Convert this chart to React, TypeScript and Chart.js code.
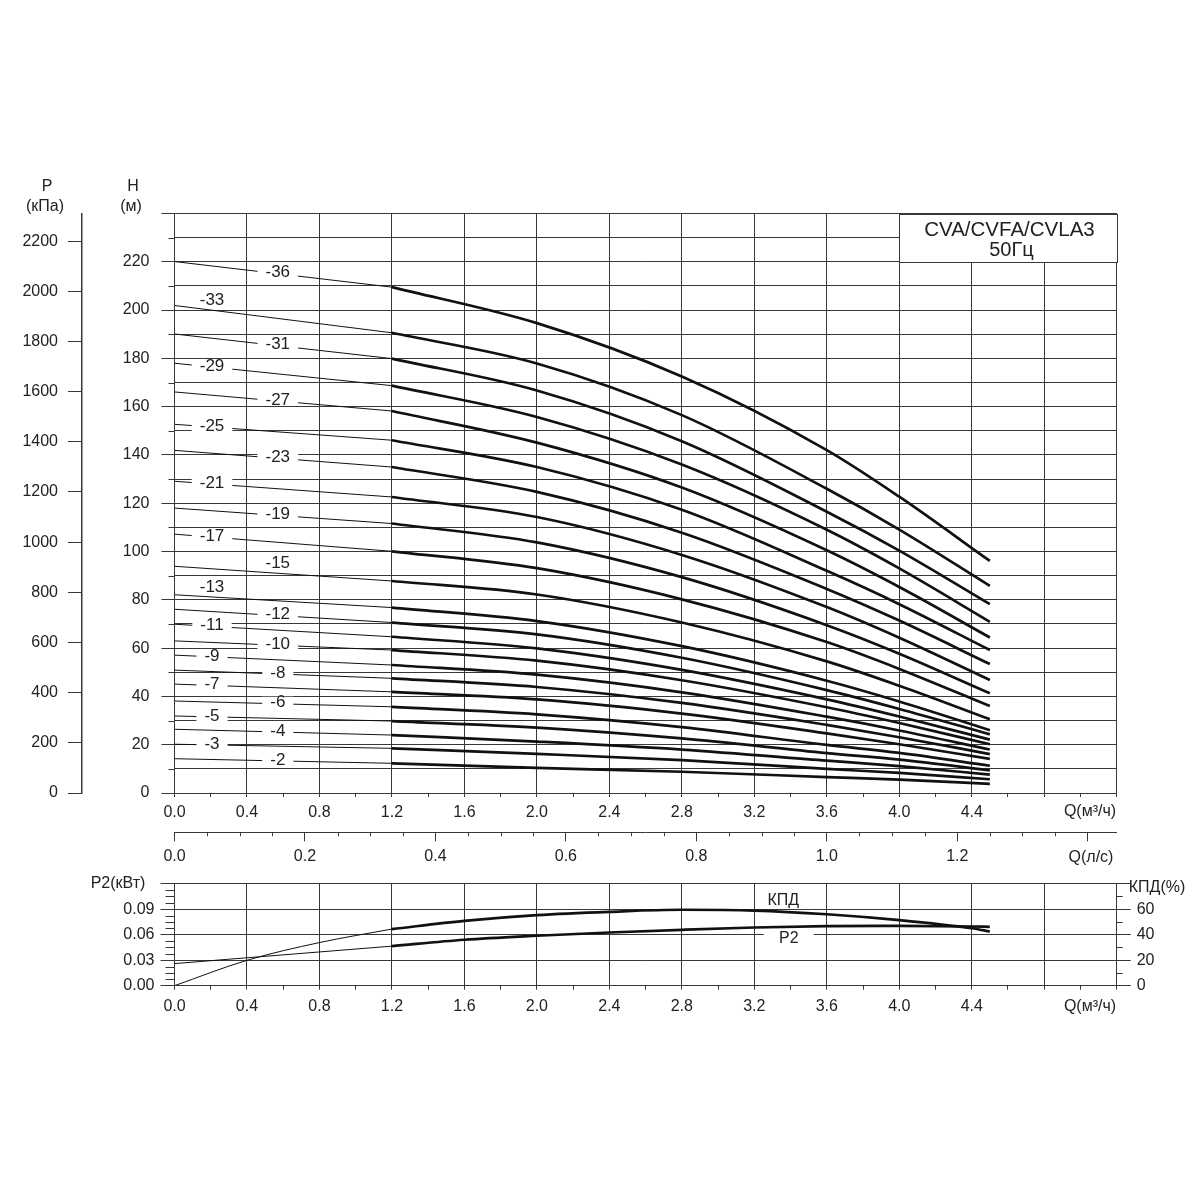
import React, { useEffect, useRef } from 'react';
import { Chart, registerables } from 'chart.js';

Chart.register(...registerables);

const FONT = '"Liberation Sans", Arial, Helvetica, sans-serif';
const INK = '#222222';
const GRID = '#383838';
const CURVE = '#111111';
const CLEAR = 'rgba(0,0,0,0)';

// ---------------- data ----------------
// flow points (m³/h) at which the head curves were read
const flowPoints = [0, 1.2, 2.0, 2.8, 3.6, 4.0, 4.5];

const stageNames = ['-36', '-33', '-31', '-29', '-27', '-25', '-23', '-21', '-19', '-17', '-15', '-13', '-12', '-11', '-10', '-9', '-8', '-7', '-6', '-5', '-4', '-3', '-2'];

// head H (m) for each model, at flowPoints
const head36 = [220.1, 209.5, 194.6, 172.5, 142.0, 122.7, 96.1];
const head33 = [201.9, 190.6, 177.9, 156.5, 126.0, 109.1, 85.8];
const head31 = [190.1, 179.9, 166.7, 145.7, 116.5, 100.4, 78.2];
const head29 = [178.0, 168.7, 155.7, 136.0, 109.0, 93.0, 70.9];
const head27 = [166.1, 158.2, 145.1, 126.5, 100.5, 85.3, 64.4];
const head25 = [152.7, 146.1, 135.0, 117.3, 92.0, 78.2, 59.2];
const head23 = [141.9, 135.0, 124.7, 107.8, 84.5, 71.4, 53.4];
const head21 = [129.1, 122.6, 114.3, 98.6, 77.0, 64.3, 46.8];
const head19 = [118.0, 111.6, 103.8, 89.4, 69.5, 57.7, 41.3];
const head17 = [107.2, 100.1, 93.1, 80.2, 62.5, 51.4, 36.0];
const head15 = [93.9, 87.8, 82.2, 70.6, 54.5, 44.4, 30.5];
const head13 = [82.1, 76.8, 71.2, 60.8, 46.5, 37.9, 26.0];
const head12 = [76.1, 70.6, 65.7, 56.0, 42.6, 34.8, 24.3];
const head11 = [69.9, 64.7, 59.9, 51.0, 38.8, 31.7, 22.1];
const head10 = [63.0, 59.2, 54.8, 46.7, 35.5, 29.0, 20.2];
const head9 = [57.1, 53.0, 49.0, 41.7, 31.6, 25.9, 18.0];
const head8 = [50.9, 47.5, 43.9, 37.3, 28.2, 23.1, 16.1];
const head7 = [45.1, 41.9, 38.8, 32.9, 24.7, 20.2, 14.1];
const head6 = [38.1, 35.7, 32.6, 27.3, 19.9, 16.6, 11.3];
const head5 = [31.9, 29.8, 27.1, 22.6, 16.5, 13.8, 9.4];
const head4 = [26.4, 24.0, 21.3, 18.0, 13.4, 11.1, 7.6];
const head3 = [20.2, 18.5, 16.2, 13.6, 10.0, 8.3, 5.7];
const head2 = [14.2, 12.3, 10.4, 8.8, 6.6, 5.5, 3.8];

const headCurves = [head36, head33, head31, head29, head27, head25, head23, head21, head19, head17, head15, head13, head12, head11, head10, head9, head8, head7, head6, head5, head4, head3, head2];

// power P2 (kW)
const powerFlow = [0, 1.2, 1.6, 2.0, 2.4, 2.8, 3.2, 3.6, 4.0, 4.4, 4.5];
const powerKW = [0.026, 0.0465, 0.054, 0.0587, 0.0625, 0.0657, 0.0684, 0.0700, 0.0703, 0.0696, 0.0692];

// efficiency (%)
const effFlow = [0, 0.4, 0.8, 1.2, 1.6, 2.0, 2.4, 2.8, 3.2, 3.6, 4.0, 4.4, 4.5];
const effPct = [0, 19.9, 33.8, 44.4, 50.8, 55.3, 57.9, 59.5, 58.9, 56.0, 51.4, 45.0, 42.5];

// tick labels
const flowTicksM3h = [0, 0.4, 0.8, 1.2, 1.6, 2.0, 2.4, 2.8, 3.2, 3.6, 4.0, 4.4];
const flowTicksLs = [0, 0.2, 0.4, 0.6, 0.8, 1.0, 1.2];
const headTicks = [0, 20, 40, 60, 80, 100, 120, 140, 160, 180, 200, 220];
const pressureTicks = [0, 200, 400, 600, 800, 1000, 1200, 1400, 1600, 1800, 2000, 2200];
const powerTicks = [0, 0.03, 0.06, 0.09];
const effTicks = [0, 20, 40, 60];

const titleLines = ['CVA/CVFA/CVLA3', '50Гц'];

// ---------------- helpers ----------------
const near = (a: number, b: number) => Math.abs(a - b) < 1e-6;
const inList = (v: number, list: number[]) => list.some((t) => near(t, v));
const isMult = (v: number, s: number) => Math.abs(v / s - Math.round(v / s)) < 1e-6;
const stepTicks = (max: number, step: number) => {
  const out: { value: number }[] = [];
  const n = Math.round(max / step);
  for (let i = 0; i <= n; i++) out.push({ value: +(i * step).toFixed(6) });
  return out;
};
const pts = (xs: number[], ys: number[], from: number, to: number) =>
  xs.slice(from, to + 1).map((x, i) => ({ x, y: ys[from + i] }));

const tickFont = { family: FONT, size: 16 };

function textAt(ctx: CanvasRenderingContext2D, s: string, x: number, y: number, size = 16, align: CanvasTextAlign = 'center') {
  ctx.font = `${size}px ${FONT}`;
  ctx.fillStyle = INK;
  ctx.textAlign = align;
  ctx.textBaseline = 'middle';
  ctx.fillText(s, x, y);
}

function hLine(ctx: CanvasRenderingContext2D, x0: number, x1: number, y: number) {
  const py = Math.round(y) + 0.5;
  ctx.beginPath();
  ctx.moveTo(x0, py);
  ctx.lineTo(x1, py);
  ctx.stroke();
}
function vLine(ctx: CanvasRenderingContext2D, x: number, y0: number, y1: number) {
  const px = Math.round(x) + 0.5;
  ctx.beginPath();
  ctx.moveTo(px, y0);
  ctx.lineTo(px, y1);
  ctx.stroke();
}

// ---------------- main chart ----------------
const aboveLabels = ['-33', '-15', '-13'];

const mainDecor = {
  id: 'mainDecor',
  afterDraw(chart: any) {
    const { ctx, chartArea: a, scales } = chart;
    const x = scales.x;
    const y = scales.y;
    ctx.save();
    ctx.strokeStyle = GRID;
    ctx.lineWidth = 1;
    // minor head ticks
    for (let v = 10; v < 240; v += 20) hLine(ctx, a.left - 6, a.left, y.getPixelForValue(v));

    // title box
    const bx0 = Math.round(x.getPixelForValue(4.0)) + 0.5;
    const bx1 = Math.round(x.getPixelForValue(5.2)) + 0.5;
    const by0 = Math.round(y.getPixelForValue(240)) + 0.5;
    const by1 = Math.round(y.getPixelForValue(220)) + 0.5;
    ctx.fillStyle = '#ffffff';
    ctx.fillRect(bx0, by0, bx1 - bx0, by1 - by0);
    ctx.strokeRect(bx0, by0, bx1 - bx0, by1 - by0);
    const cx = (bx0 + bx1) / 2 + 1;
    textAt(ctx, titleLines[0], cx, by0 + 16, 20.5);
    textAt(ctx, titleLines[1], cx + 2, by0 + 36, 20);

    // curve labels
    stageNames.forEach((name, i) => {
      const h = headCurves[i];
      const q = i % 2 === 0 ? 0.57 : 0.207;
      const hv = h[0] + ((h[1] - h[0]) * q) / (flowPoints[1] - flowPoints[0]);
      const px = x.getPixelForValue(q);
      const above = aboveLabels.includes(name);
      const py = y.getPixelForValue(hv) + (above ? -10 : -1);
      ctx.font = `17px ${FONT}`;
      const w = ctx.measureText(name).width;
      if (!above) {
        ctx.fillStyle = '#ffffff';
        ctx.fillRect(px - w / 2 - 8, py - 6, w + 16, 12);
      }
      textAt(ctx, name, px, py, 17);
    });

    // axis titles
    textAt(ctx, 'P', 47, 187);
    textAt(ctx, '(кПа)', 45, 207);
    textAt(ctx, 'H', 133, 187);
    textAt(ctx, '(м)', 131, 207);
    textAt(ctx, 'Q(м³/ч)', 1090, 812);
    ctx.restore();
  },
};

function mainConfig(): any {
  const datasets: any[] = [];
  headCurves.forEach((h) => {
    datasets.push({
      data: pts(flowPoints, h, 0, 1),
      borderColor: CURVE,
      borderWidth: 1,
      pointRadius: 0,
      tension: 0,
      yAxisID: 'y',
    });
    datasets.push({
      data: pts(flowPoints, h, 1, flowPoints.length - 1),
      borderColor: CURVE,
      borderWidth: 2.7,
      pointRadius: 0,
      cubicInterpolationMode: 'monotone',
      yAxisID: 'y',
    });
  });
  return {
    type: 'line',
    data: { datasets },
    plugins: [mainDecor],
    options: {
      responsive: false,
      animation: false,
      events: [],
      layout: { padding: { left: 0, right: 83.3, top: 213.5, bottom: 0 } },
      plugins: { legend: { display: false }, tooltip: { enabled: false }, title: { display: false } },
      scales: {
        x: {
          type: 'linear',
          position: 'bottom',
          min: 0,
          max: 5.2,
          afterBuildTicks: (s: any) => { s.ticks = stepTicks(5.2, 0.2); },
          afterFit: (s: any) => { s.height = 37; },
          ticks: {
            autoSkip: false,
            maxRotation: 0,
            padding: 6,
            color: INK,
            font: tickFont,
            callback: (v: number) => (inList(v, flowTicksM3h) ? v.toFixed(1) : ''),
          },
          grid: {
            color: (c: any) => (isMult(c.tick.value, 0.4) ? GRID : CLEAR),
            tickColor: GRID,
            tickLength: 4,
            lineWidth: 1,
          },
          border: { display: true, color: GRID, width: 1 },
        },
        y: {
          type: 'linear',
          position: 'left',
          weight: 0,
          min: 0,
          max: 240,
          afterBuildTicks: (s: any) => { s.ticks = stepTicks(240, 10); },
          afterFit: (s: any) => { s.width = 92.5; },
          ticks: {
            autoSkip: false,
            padding: 12,
            color: INK,
            font: tickFont,
            callback: (v: number) => (inList(v, headTicks) ? String(Math.round(v)) : ''),
          },
          grid: {
            color: GRID,
            tickColor: (c: any) => (isMult(c.tick.value, 20) ? GRID : CLEAR),
            tickLength: 13,
            lineWidth: 1,
          },
          border: { display: true, color: GRID, width: 1 },
        },
        p: {
          type: 'linear',
          position: 'left',
          weight: 10,
          min: 0,
          max: 2310,
          afterBuildTicks: (s: any) => { s.ticks = stepTicks(2200, 200); },
          afterFit: (s: any) => { s.width = 82; },
          ticks: {
            autoSkip: false,
            padding: 10,
            color: INK,
            font: tickFont,
            callback: (v: number) => (inList(v, pressureTicks) ? String(Math.round(v)) : ''),
          },
          grid: { drawOnChartArea: false, color: GRID, tickColor: GRID, tickLength: 14, lineWidth: 1 },
          border: { display: true, color: GRID, width: 1.5 },
        },
      },
    },
  };
}

// ---------------- l/s axis ----------------
const lsDecor = {
  id: 'lsDecor',
  afterDraw(chart: any) {
    const { ctx, chartArea: a, scales } = chart;
    const x = scales.x;
    ctx.save();
    ctx.strokeStyle = GRID;
    ctx.lineWidth = 1;
    for (let i = 0; i <= 28; i++) {
      const v = i * 0.05;
      if (isMult(v, 0.2)) continue;
      vLine(ctx, x.getPixelForValue(v), a.bottom, a.bottom + 4);
    }
    textAt(ctx, 'Q(л/с)', 1091, a.bottom + 25);
    ctx.restore();
  },
};

function lsConfig(): any {
  return {
    type: 'line',
    data: { datasets: [] },
    plugins: [lsDecor],
    options: {
      responsive: false,
      animation: false,
      events: [],
      layout: { padding: { left: 174.5, right: 83.3, top: 4, bottom: 0 } },
      plugins: { legend: { display: false }, tooltip: { enabled: false } },
      scales: {
        x: {
          type: 'linear',
          position: 'bottom',
          min: 0,
          max: 5.2 / 3.6,
          afterBuildTicks: (s: any) => { s.ticks = stepTicks(1.4, 0.2); },
          afterFit: (s: any) => { s.height = 37.7; },
          ticks: {
            autoSkip: false,
            maxRotation: 0,
            padding: 6,
            color: INK,
            font: tickFont,
            callback: (v: number) => (inList(v, flowTicksLs) ? v.toFixed(1) : ''),
          },
          grid: { drawOnChartArea: false, tickColor: GRID, tickLength: 9, lineWidth: 1 },
          border: { display: true, color: GRID, width: 1 },
        },
        y: { display: false, min: 0, max: 1 },
      },
    },
  };
}

// ---------------- lower chart ----------------
const lowDecor = {
  id: 'lowDecor',
  afterDraw(chart: any) {
    const { ctx, chartArea: a, scales } = chart;
    const x = scales.x;
    const pw = scales.pw;
    const ef = scales.ef;
    ctx.save();
    ctx.strokeStyle = GRID;
    ctx.lineWidth = 1;
    for (let i = 1; i < 16; i++) {
      if (i % 4 === 0) continue;
      hLine(ctx, a.left - 9, a.left, pw.getPixelForValue(i * 0.0075));
    }
    for (let v = 10; v < 80; v += 20) hLine(ctx, a.right, a.right + 6, ef.getPixelForValue(v));

    // curve labels
    textAt(ctx, 'КПД', x.getPixelForValue(3.36), ef.getPixelForValue(66.5));
    const p2x = x.getPixelForValue(3.39);
    const p2y = pw.getPixelForValue(0.0555);
    ctx.fillStyle = '#ffffff';
    ctx.fillRect(p2x - 25, p2y - 7, 50, 12);
    textAt(ctx, 'P2', p2x, p2y);

    textAt(ctx, 'P2(кВт)', 118, a.top);
    textAt(ctx, 'КПД(%)', 1157, a.top + 4);
    textAt(ctx, 'Q(м³/ч)', 1090, a.bottom + 21);
    ctx.restore();
  },
};

function lowConfig(): any {
  const thin = { borderColor: CURVE, borderWidth: 1, pointRadius: 0 };
  const thick = { borderColor: CURVE, borderWidth: 2.7, pointRadius: 0, cubicInterpolationMode: 'monotone' };
  return {
    type: 'line',
    data: {
      datasets: [
        { ...thin, data: pts(powerFlow, powerKW, 0, 1), yAxisID: 'pw' },
        { ...thick, data: pts(powerFlow, powerKW, 1, powerFlow.length - 1), yAxisID: 'pw' },
        { ...thin, cubicInterpolationMode: 'monotone', data: pts(effFlow, effPct, 0, 3), yAxisID: 'ef' },
        { ...thick, data: pts(effFlow, effPct, 3, effFlow.length - 1), yAxisID: 'ef' },
      ],
    },
    plugins: [lowDecor],
    options: {
      responsive: false,
      animation: false,
      events: [],
      layout: { padding: { left: 0, right: 0, top: 14, bottom: 0 } },
      plugins: { legend: { display: false }, tooltip: { enabled: false } },
      scales: {
        x: {
          type: 'linear',
          position: 'bottom',
          min: 0,
          max: 5.2,
          afterBuildTicks: (s: any) => { s.ticks = stepTicks(5.2, 0.2); },
          afterFit: (s: any) => { s.height = 34.3; },
          ticks: {
            autoSkip: false,
            maxRotation: 0,
            padding: 7,
            color: INK,
            font: tickFont,
            callback: (v: number) => (inList(v, flowTicksM3h) ? v.toFixed(1) : ''),
          },
          grid: {
            color: (c: any) => (isMult(c.tick.value, 0.4) ? GRID : CLEAR),
            tickColor: GRID,
            tickLength: 4,
            lineWidth: 1,
          },
          border: { display: true, color: GRID, width: 1 },
        },
        pw: {
          type: 'linear',
          position: 'left',
          min: 0,
          max: 0.12,
          afterBuildTicks: (s: any) => { s.ticks = stepTicks(0.12, 0.03); },
          afterFit: (s: any) => { s.width = 174.5; },
          ticks: {
            autoSkip: false,
            padding: 6,
            color: INK,
            font: tickFont,
            callback: (v: number) => (inList(v, powerTicks) ? v.toFixed(2) : ''),
          },
          grid: { color: GRID, tickColor: GRID, tickLength: 14, lineWidth: 1 },
          border: { display: true, color: GRID, width: 1 },
        },
        ef: {
          type: 'linear',
          position: 'right',
          min: 0,
          max: 80,
          afterBuildTicks: (s: any) => { s.ticks = stepTicks(80, 20); },
          afterFit: (s: any) => { s.width = 83.3; },
          ticks: {
            autoSkip: false,
            padding: 6,
            color: INK,
            font: tickFont,
            callback: (v: number) => (inList(v, effTicks) ? String(Math.round(v)) : ''),
          },
          grid: { drawOnChartArea: false, color: GRID, tickColor: GRID, tickLength: 14, lineWidth: 1 },
          border: { display: true, color: GRID, width: 1 },
        },
      },
    },
  };
}

export default function App() {
  const mainRef = useRef<HTMLCanvasElement>(null);
  const lsRef = useRef<HTMLCanvasElement>(null);
  const lowRef = useRef<HTMLCanvasElement>(null);

  useEffect(() => {
    const charts = [
      new Chart(mainRef.current as HTMLCanvasElement, mainConfig()),
      new Chart(lsRef.current as HTMLCanvasElement, lsConfig()),
      new Chart(lowRef.current as HTMLCanvasElement, lowConfig()),
    ];
    return () => charts.forEach((c) => c.destroy());
  }, []);

  return (
    <div style={{ position: 'absolute', left: 0, top: 0, width: 1200, height: 1200, background: '#ffffff' }}>
      <canvas ref={mainRef} width={1200} height={830} style={{ position: 'absolute', left: 0, top: 0, width: 1200, height: 830 }} />
      <canvas ref={lsRef} width={1200} height={52} style={{ position: 'absolute', left: 0, top: 818, width: 1200, height: 52 }} />
      <canvas ref={lowRef} width={1200} height={152} style={{ position: 'absolute', left: 0, top: 868, width: 1200, height: 152 }} />
    </div>
  );
}
